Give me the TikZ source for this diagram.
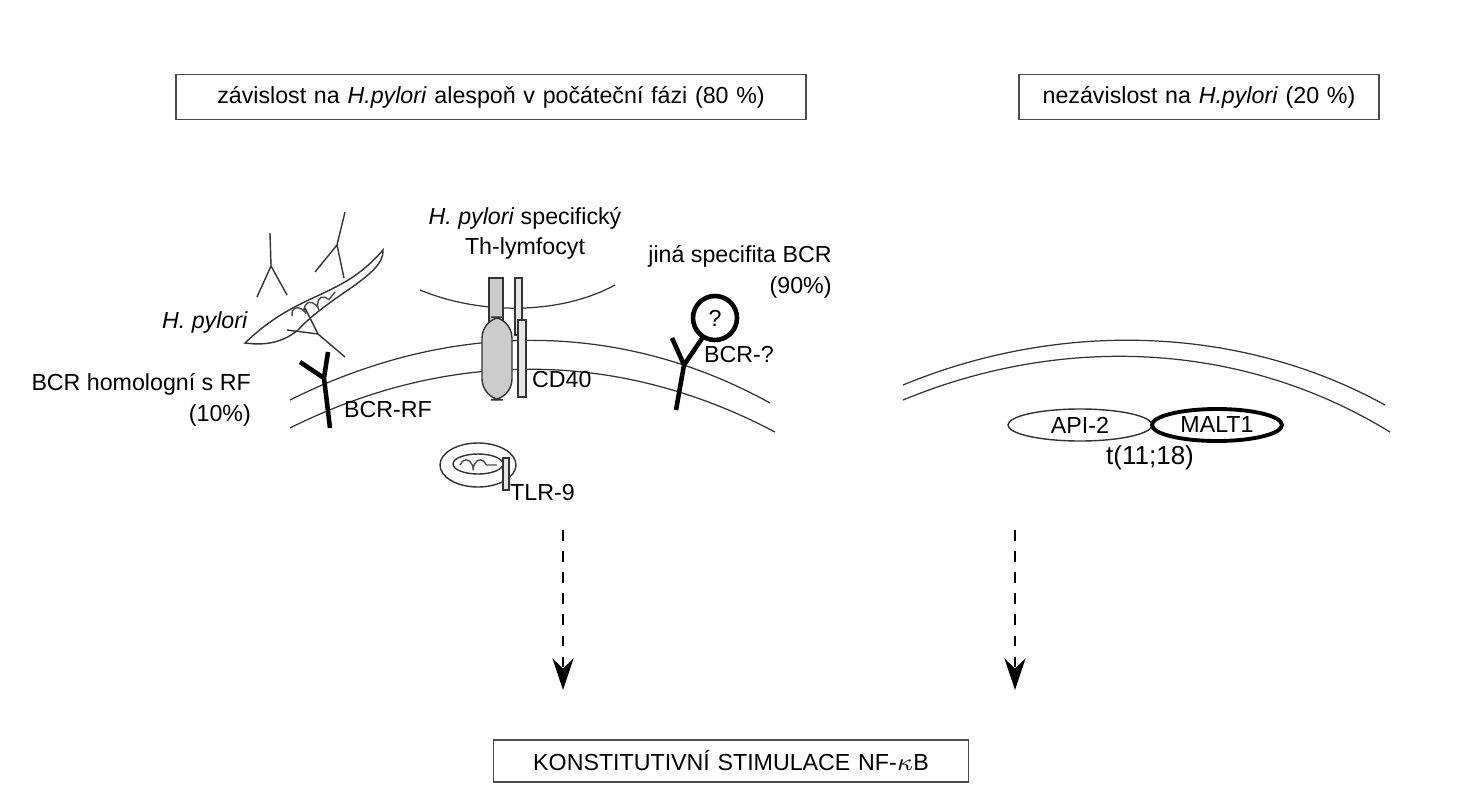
\documentclass[tikz,border=0pt]{standalone}
\usepackage{fontspec}
\setmainfont{Liberation Sans}
\usetikzlibrary{positioning,arrows.meta,decorations.pathmorphing}

\begin{document}
\begin{tikzpicture}[x=0.01cm,y=-0.01cm,
    lbl/.style={font=\fontsize{6.6}{8}\selectfont, inner sep=1pt},
    box/.style={draw=black!70, font=\fontsize{6.6}{8}\selectfont, inner sep=0pt},
    memb/.style={draw=black!80, line width=0.35pt},
    bcr/.style={line width=1.3pt},
    flow/.style={dashed, line width=0.6pt, -{Stealth[length=9pt,width=6pt]}}
    ]
        \useasboundingbox (0,0) rectangle (1461,800);
        %Boxes
        \node[box, text width=6.3cm, align=center, minimum height=0.45cm]
            (dep) at (491,97) {závislost na \textit{H.pylori} alespoň v počáteční fázi (80 \%)};
        \node[box, text width=3.6cm, align=center, minimum height=0.45cm]
            (indep) at (1199,97) {nezávislost na \textit{H.pylori} (20 \%)};
        \node[box, text width=4.75cm, align=center, minimum height=0.42cm]
            (nfkb) at (731,761) {KONSTITUTIVNÍ STIMULACE NF-$\kappa$B};

        %Membranes
        \draw[memb] (290,400) .. controls (450,320) and (620,320) .. (770,403);
        \draw[memb] (290,428) .. controls (450,348) and (620,350) .. (775,432);
        \draw[memb] (903,385) .. controls (1060,320) and (1240,325) .. (1385,405);
        \draw[memb] (903,400) .. controls (1060,335) and (1240,340) .. (1390,432);
        \draw[memb] (420,290) .. controls (480,315) and (560,315) .. (615,285);

        %Th-lymphocyte
        \node[lbl] (thtxt) at (525,218) {\textit{H. pylori} specifický};
        \node[lbl] (thtxt2) at (525,248) {Th-lymfocyt};
        \draw[fill=black!20, draw=black!80] (489,278) rectangle (503,335);
        \draw[fill=black!10, draw=black!80] (515,278) rectangle (522,335);
        \draw[fill=black!20, draw=black!80, rounded corners=6pt] (482,317) rectangle (512,400);
        \draw[fill=black!10, draw=black!80] (518,320) rectangle (526,397);
        \node[lbl, anchor=west] (cd40) at (528,380) {CD40};

        %H. pylori
        \draw[draw=black!80, fill=white] (245,343) .. controls (300,290) and (340,300) .. (383,250)
            .. controls (385,275) and (330,295) .. (298,330) .. controls (280,345) and (260,345) .. cycle;
        \draw[draw=black!70, decorate, decoration={coil, aspect=0.5, segment length=4pt, amplitude=1.5pt}]
            (292,316) .. controls (310,305) and (320,308) .. (335,292);
        \draw[draw=black!80] (270,233) -- (271,266) -- (257,297) (271,266) -- (287,295);
        \draw[draw=black!80] (345,212) -- (337,245) -- (315,272) (337,245) -- (344,278);
        \draw[draw=black!80] (287,330) -- (318,334) -- (345,357) (305,308) -- (318,334);
        \node[lbl, anchor=east] (hp) at (252,322) {\textit{H. pylori}};

        %BCR-RF
        \draw[bcr] (330,428) -- (324,378) (324,378) -- (300,362) (324,378) -- (328,352);
        \node[lbl, anchor=west] (bcrrf) at (340,410) {BCR-RF};
        \node[lbl, align=right, anchor=east] (bcrhom) at (255,400) {BCR homologní s RF\\[1pt](10\%)};

        %TLR-9
        \draw[draw=black!80] (478,465) ellipse (38 and 22);
        \draw[draw=black!80] (478,464) ellipse (25 and 10);
        \draw[draw=black!70, decorate, decoration={coil, aspect=0.5, segment length=4pt, amplitude=1.5pt}]
            (460,465) -- (497,465);
        \draw[draw=black!80, fill=black!10] (503,458) rectangle (509,490);
        \node[lbl, anchor=west] (tlr) at (506,493) {TLR-9};

        %BCR-?
        \draw[bcr] (676,410) -- (684,365) (684,365) -- (672,338) (684,365) -- (703,337);
        \draw[line width=1.3pt] (715,318) circle (22);
        \node[lbl] (q) at (715,318) {?};
        \node[lbl, anchor=west] (bcrq) at (700,355) {BCR-?};
        \node[lbl, align=right] (other) at (740,272) {jiná specifita BCR\\[1pt]\hfill(90\%)};

        %Translocation
        \draw[draw=black!80] (1080,425) ellipse (72 and 16);
        \draw[line width=1.1pt, fill=white] (1217,425) ellipse (65 and 16);
        \node[lbl] (api) at (1080,425) {API-2};
        \node[lbl] (malt) at (1217,425) {MALT1};
        \node[lbl, font=\fontsize{7.4}{9}\selectfont] (tr) at (1150,458) {t(11;18)};

        %Arrows
        \coordinate (a1) at (563,530);
        \coordinate (a2) at (1015,530);
        \coordinate (b1) at (563,690);
        \coordinate (b2) at (1015,690);
        \draw[flow] (a1) -- (b1);
        \draw[flow] (a2) -- (b2);
\end{tikzpicture}
\end{document}
